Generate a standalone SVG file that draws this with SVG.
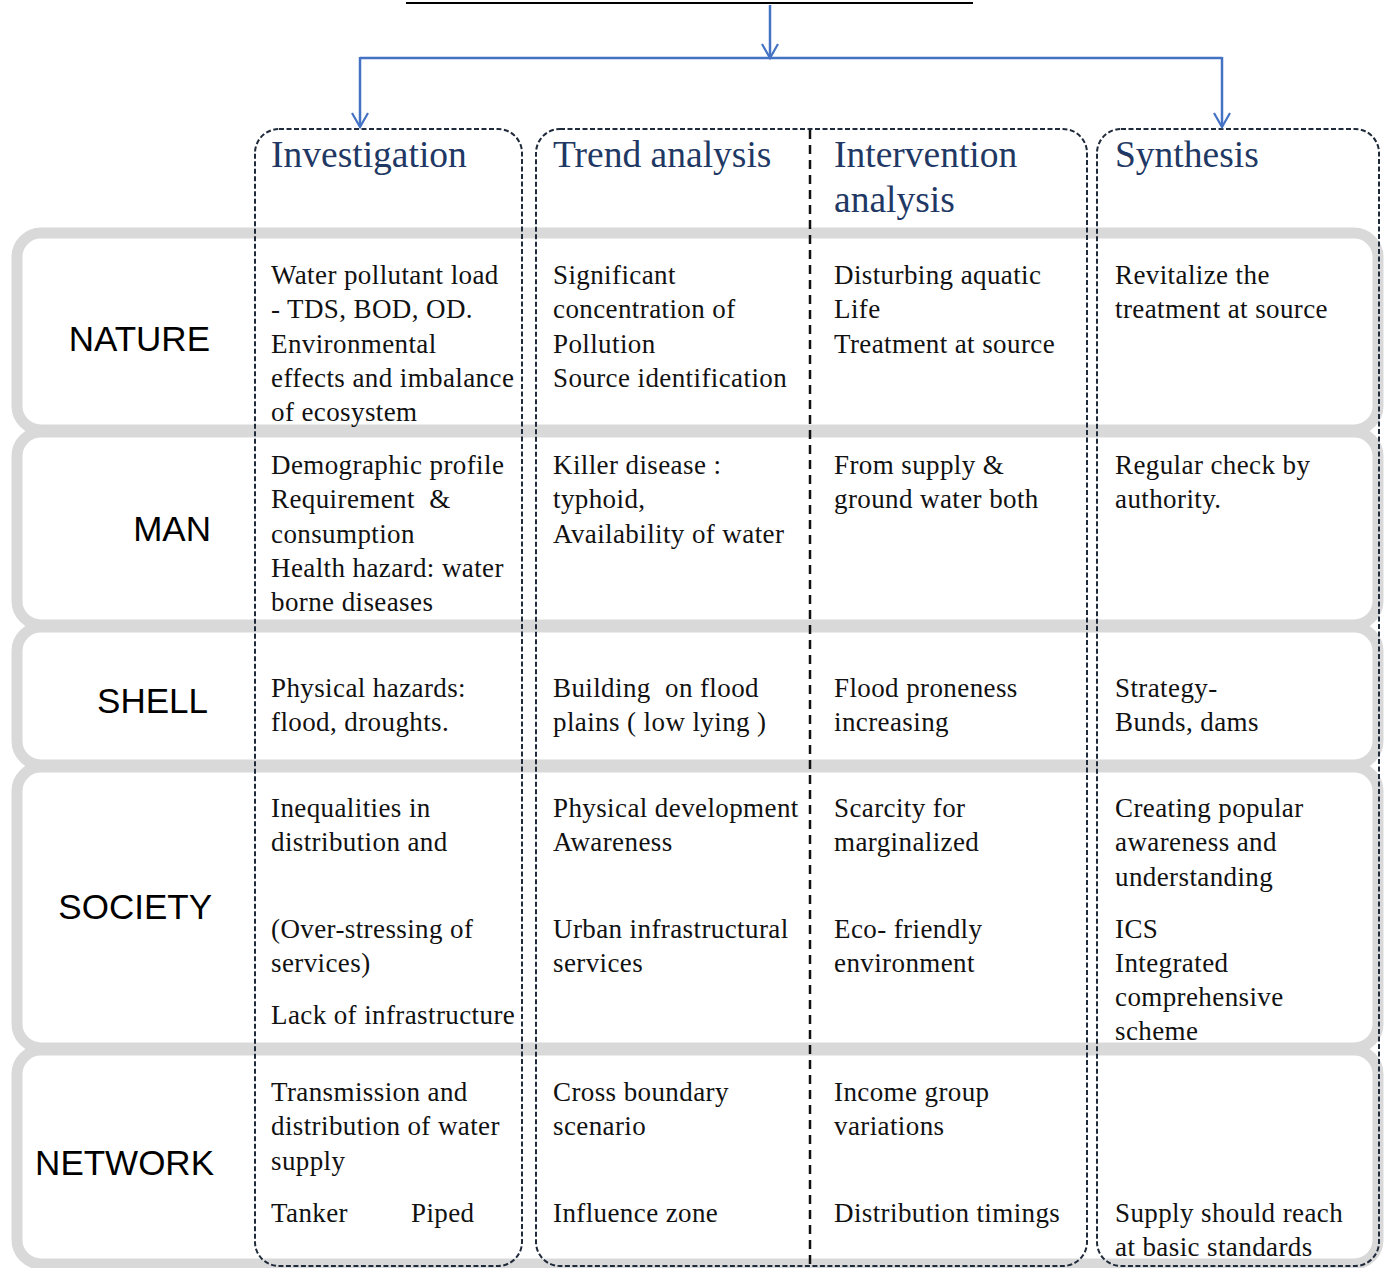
<svg xmlns="http://www.w3.org/2000/svg" width="1384" height="1268" viewBox="0 0 1384 1268">
<defs>
<marker id="arr" markerUnits="userSpaceOnUse" markerWidth="20" markerHeight="20" viewBox="0 0 20 20" refX="16" refY="10" orient="auto">
<path d="M2,2 L16,10 L2,18" fill="none" stroke="#4472c4" stroke-width="2.2"/>
</marker>
</defs>
<style>
.row{fill:#ffffff;stroke:#d9d9d9;stroke-width:11}
.col{fill:none;stroke:#1f2a3a;stroke-width:2;stroke-dasharray:5 2.5}
.div{stroke:#111;stroke-width:2.5;stroke-dasharray:9 6}
.lbl{font-family:"Liberation Sans","Noto Sans",sans-serif;font-size:35px;fill:#000;text-anchor:end}
.hd{font-family:"Liberation Serif","Times New Roman",serif;font-size:37.5px;fill:#1f3864}
.t{font-family:"Liberation Serif","Times New Roman",serif;font-size:27px;letter-spacing:0.4px;fill:#111}
.con{fill:none;stroke:#4472c4;stroke-width:2.5}
</style>
<rect width="1384" height="1268" fill="#ffffff"/>
<line x1="406" y1="3" x2="973" y2="3" stroke="#000" stroke-width="2"/>

<g id="row-nature"><rect class="row" x="17" y="233" width="1361" height="197" rx="24"/><text class="lbl" x="210" y="351">NATURE</text></g>
<g id="row-man"><rect class="row" x="17" y="432" width="1361" height="193" rx="24"/><text class="lbl" x="211" y="541">MAN</text></g>
<g id="row-shell"><rect class="row" x="17" y="627" width="1361" height="138" rx="24"/><text class="lbl" x="208" y="713">SHELL</text></g>
<g id="row-society"><rect class="row" x="17" y="767" width="1361" height="281" rx="24"/><text class="lbl" x="212" y="919">SOCIETY</text></g>
<g id="row-network"><rect class="row" x="17" y="1050" width="1361" height="214" rx="24"/><text class="lbl" x="214" y="1175">NETWORK</text></g>

<g id="col-investigation"><rect class="col" x="255" y="129" width="267" height="1137" rx="24"/><text class="hd" x="271" y="167">Investigation</text></g>
<g id="col-trend-intervention"><rect class="col" x="536" y="129" width="551" height="1137" rx="24"/><line class="div" x1="810" y1="130" x2="810" y2="1266"/><text class="hd" x="553" y="167">Trend analysis</text><text class="hd" x="834" y="167">Intervention</text><text class="hd" x="834" y="212">analysis</text></g>
<g id="col-synthesis"><rect class="col" x="1097" y="129" width="282" height="1137" rx="24"/><text class="hd" x="1115" y="167">Synthesis</text></g>

<g id="cells" class="t">
<text class="t" x="271" y="284">Water pollutant load</text>
<text class="t" x="271" y="318">- TDS, BOD, OD.</text>
<text class="t" x="271" y="353">Environmental</text>
<text class="t" x="271" y="387">effects and imbalance</text>
<text class="t" x="271" y="421">of ecosystem</text>
<text class="t" x="553" y="284">Significant</text>
<text class="t" x="553" y="318">concentration of</text>
<text class="t" x="553" y="353">Pollution</text>
<text class="t" x="553" y="387">Source identification</text>
<text class="t" x="834" y="284">Disturbing aquatic</text>
<text class="t" x="834" y="318">Life</text>
<text class="t" x="834" y="353">Treatment at source</text>
<text class="t" x="1115" y="284">Revitalize the</text>
<text class="t" x="1115" y="318">treatment at source</text>

<text class="t" x="271" y="474">Demographic profile</text>
<text class="t" x="271" y="508" xml:space="preserve">Requirement  &amp;</text>
<text class="t" x="271" y="543">consumption</text>
<text class="t" x="271" y="577">Health hazard: water</text>
<text class="t" x="271" y="611">borne diseases</text>
<text class="t" x="553" y="474">Killer disease :</text>
<text class="t" x="553" y="508">typhoid,</text>
<text class="t" x="553" y="543">Availability of water</text>
<text class="t" x="834" y="474">From supply &amp;</text>
<text class="t" x="834" y="508">ground water both</text>
<text class="t" x="1115" y="474">Regular check by</text>
<text class="t" x="1115" y="508">authority.</text>

<text class="t" x="271" y="697">Physical hazards:</text>
<text class="t" x="271" y="731">flood, droughts.</text>
<text class="t" x="553" y="697" xml:space="preserve">Building  on flood</text>
<text class="t" x="553" y="731">plains ( low lying )</text>
<text class="t" x="834" y="697">Flood proneness</text>
<text class="t" x="834" y="731">increasing</text>
<text class="t" x="1115" y="697">Strategy-</text>
<text class="t" x="1115" y="731">Bunds, dams</text>

<text class="t" x="271" y="817">Inequalities in</text>
<text class="t" x="271" y="851">distribution and</text>
<text class="t" x="271" y="938">(Over-stressing of</text>
<text class="t" x="271" y="972">services)</text>
<text class="t" x="271" y="1024">Lack of infrastructure</text>
<text class="t" x="553" y="817">Physical development</text>
<text class="t" x="553" y="851">Awareness</text>
<text class="t" x="553" y="938">Urban infrastructural</text>
<text class="t" x="553" y="972">services</text>
<text class="t" x="834" y="817">Scarcity for</text>
<text class="t" x="834" y="851">marginalized</text>
<text class="t" x="834" y="938">Eco- friendly</text>
<text class="t" x="834" y="972">environment</text>
<text class="t" x="1115" y="817">Creating popular</text>
<text class="t" x="1115" y="851">awareness and</text>
<text class="t" x="1115" y="886">understanding</text>
<text class="t" x="1115" y="938">ICS</text>
<text class="t" x="1115" y="972">Integrated</text>
<text class="t" x="1115" y="1006">comprehensive</text>
<text class="t" x="1115" y="1040">scheme</text>

<text class="t" x="271" y="1101">Transmission and</text>
<text class="t" x="271" y="1135">distribution of water</text>
<text class="t" x="271" y="1170">supply</text>
<text class="t" x="271" y="1222">Tanker</text>
<text class="t" x="411" y="1222">Piped</text>
<text class="t" x="553" y="1101">Cross boundary</text>
<text class="t" x="553" y="1135">scenario</text>
<text class="t" x="553" y="1222">Influence zone</text>
<text class="t" x="834" y="1101">Income group</text>
<text class="t" x="834" y="1135">variations</text>
<text class="t" x="834" y="1222">Distribution timings</text>
<text class="t" x="1115" y="1222">Supply should reach</text>
<text class="t" x="1115" y="1256">at basic standards</text>
</g>

<g id="connectors">
<line class="con" x1="770" y1="5" x2="770" y2="58" marker-end="url(#arr)"/>
<line class="con" x1="360" y1="58" x2="1222" y2="58"/>
<line class="con" x1="360" y1="57" x2="360" y2="127" marker-end="url(#arr)"/>
<line class="con" x1="1222" y1="57" x2="1222" y2="127" marker-end="url(#arr)"/>
</g>
</svg>
